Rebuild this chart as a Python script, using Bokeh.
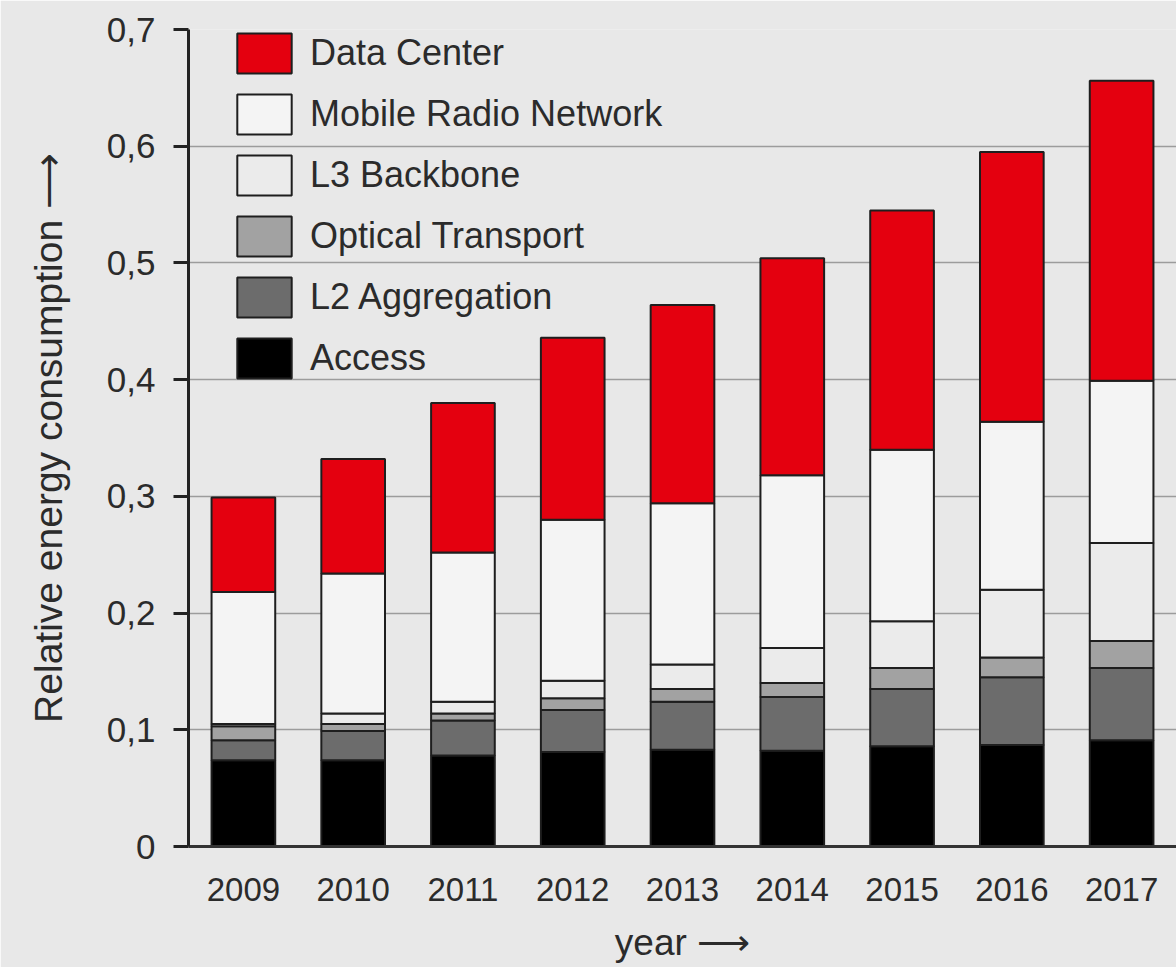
from bokeh.plotting import figure
from bokeh.models import (ColumnDataSource, FixedTicker, CustomJSTickFormatter,
                          Legend, LegendItem, Range1d)
from bokeh.embed import file_html
from bokeh.resources import INLINE

years = ["2009", "2010", "2011", "2012", "2013", "2014", "2015", "2016", "2017"]
access = [0.074, 0.074, 0.078, 0.081, 0.083, 0.082, 0.086, 0.087, 0.091]
l2_aggregation = [0.017, 0.025, 0.030, 0.036, 0.041, 0.046, 0.049, 0.058, 0.062]
optical_transport = [0.012, 0.006, 0.006, 0.010, 0.011, 0.012, 0.018, 0.017, 0.023]
l3_backbone = [0.002, 0.009, 0.010, 0.015, 0.021, 0.030, 0.040, 0.058, 0.084]
mobile_radio = [0.113, 0.120, 0.128, 0.138, 0.138, 0.148, 0.147, 0.144, 0.139]
data_center = [0.081, 0.098, 0.128, 0.156, 0.170, 0.186, 0.205, 0.231, 0.257]

series_names = ["Access", "L2 Aggregation", "Optical Transport", "L3 Backbone",
                "Mobile Radio Network", "Data Center"]
series_keys = ["access", "l2", "opt", "l3", "mob", "dc"]
series_colors = ["#000000", "#6c6c6c", "#a2a2a2", "#ebebeb", "#f4f4f4", "#e4000f"]

y_ticks = [0, 0.1, 0.2, 0.3, 0.4, 0.5, 0.6, 0.7]
grid_ticks = [0.1, 0.2, 0.3, 0.4, 0.5, 0.6]

xpos = list(range(len(years)))
source = ColumnDataSource(data=dict(
    x=xpos, access=access, l2=l2_aggregation, opt=optical_transport,
    l3=l3_backbone, mob=mobile_radio, dc=data_center))

FONT = "Liberation Sans"
BG = "#e8e8e8"

p = figure(width=1176, height=967, output_backend="svg", toolbar_location=None,
           x_range=Range1d(-0.5, 8.5), y_range=Range1d(0, 0.7),
           min_border_left=188, min_border_right=0, min_border_top=29,
           min_border_bottom=121)
p.background_fill_color = BG
p.border_fill_color = BG
p.outline_line_color = None

renderers = p.vbar_stack(series_keys, x="x", width=0.58, source=source,
                         fill_color=series_colors, line_color="#1e1e1e",
                         line_width=2)

items = [LegendItem(label=n, renderers=[r]) for n, r in zip(series_names, renderers)]
items.reverse()
legend = Legend(items=items, location=(42, 463), orientation="vertical",
                glyph_width=68, glyph_height=50, spacing=11, padding=0, margin=0,
                label_standoff=12, label_text_font_size="36px", label_text_font=FONT,
                label_text_color="#2b2b2b", background_fill_alpha=0,
                border_line_alpha=0)
p.add_layout(legend)

# y axis
p.yaxis.ticker = FixedTicker(ticks=y_ticks)
p.yaxis.formatter = CustomJSTickFormatter(
    code="return tick == 0 ? '0' : tick.toFixed(1).replace('.', ',');")
p.yaxis.axis_line_width = 3
p.yaxis.axis_line_color = "#222222"
p.yaxis.major_tick_out = 15
p.yaxis.major_tick_in = 0
p.yaxis.major_tick_line_width = 3
p.yaxis.major_tick_line_color = "#222222"
p.yaxis.minor_tick_line_color = None
p.yaxis.major_label_standoff = 18
p.yaxis.major_label_text_font = FONT
p.yaxis.major_label_text_font_size = "35px"
p.yaxis.major_label_text_color = "#2b2b2b"
p.yaxis.axis_label = "Relative energy consumption \u27f6"
p.yaxis.axis_label_text_font = FONT
p.yaxis.axis_label_text_font_size = "39px"
p.yaxis.axis_label_text_font_style = "normal"
p.yaxis.axis_label_text_color = "#2b2b2b"
p.yaxis.axis_label_standoff = 34

# x axis
p.xaxis.ticker = FixedTicker(ticks=xpos)
p.xaxis.major_label_overrides = {i: y for i, y in zip(xpos, years)}
p.xaxis.axis_line_width = 3
p.xaxis.axis_line_color = "#333333"
p.xaxis.major_tick_out = 0
p.xaxis.major_tick_in = 0
p.xaxis.minor_tick_line_color = None
p.xaxis.major_label_standoff = 31
p.xaxis.major_label_text_font = FONT
p.xaxis.major_label_text_font_size = "33px"
p.xaxis.major_label_text_color = "#2b2b2b"
p.xaxis.axis_label = "year \u27f6"
p.xaxis.axis_label_text_font = FONT
p.xaxis.axis_label_text_font_size = "37px"
p.xaxis.axis_label_text_font_style = "normal"
p.xaxis.axis_label_text_color = "#2b2b2b"
p.xaxis.axis_label_standoff = 18

# grid
p.xgrid.visible = False
p.ygrid.ticker = FixedTicker(ticks=grid_ticks)
p.ygrid.grid_line_color = "#9c9c9c"
p.ygrid.grid_line_width = 1.5

open("out.html", "w").write(file_html(p, INLINE))
